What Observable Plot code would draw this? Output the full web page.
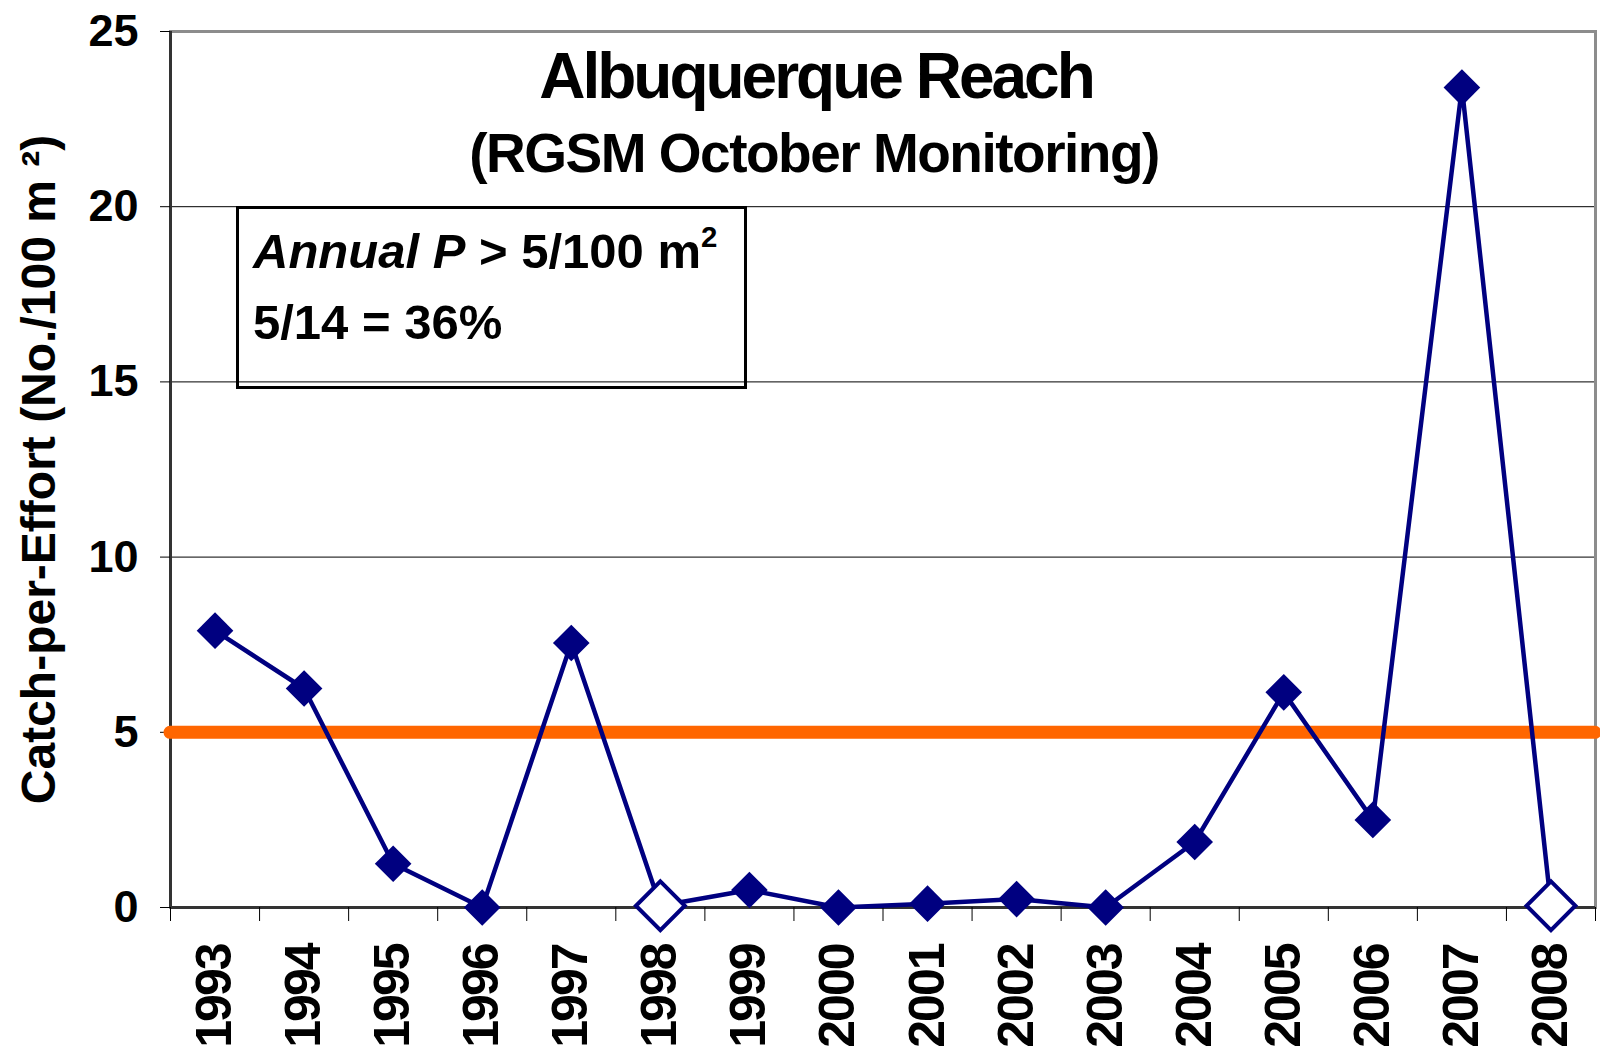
<!DOCTYPE html>
<html>
<head>
<meta charset="utf-8">
<script src="https://cdn.jsdelivr.net/npm/d3@7"></script>
<script src="https://cdn.jsdelivr.net/npm/@observablehq/plot@0.6"></script>
<style>
  html, body { margin: 0; padding: 0; background: #fff; overflow: hidden; }
  #wrap { position: relative; width: 1600px; height: 1053px; font-family: "Liberation Sans", Arial, sans-serif; }
  #wrap svg { position: absolute; left: 0; top: 0; }
  #note {
    position: absolute; left: 236px; top: 206px; width: 511px; height: 183px;
    box-sizing: border-box; border: 3px solid #000;
  }
  #noteText {
    position: absolute; left: 253px; top: 215.5px;
    font-family: "Liberation Sans", Arial, sans-serif; font-weight: bold;
    font-size: 49px; line-height: 71px; color: #000; white-space: nowrap;
  }
  #noteText sup { font-size: 0.6em; line-height: 0; vertical-align: 0.7em; }
</style>
</head>
<body>
<div id="wrap"></div>
<script>
// ---- data ----
const years = [1993, 1994, 1995, 1996, 1997, 1998, 1999, 2000, 2001, 2002, 2003, 2004, 2005, 2006, 2007, 2008];
const cpue  = [7.9, 6.25, 1.25, 0.0, 7.55, 0.05, 0.5, 0.0, 0.11, 0.24, 0.0, 1.87, 6.14, 2.5, 23.4, 0.05];
const openMarker = [false, false, false, false, false, true, false, false, false, false, false, false, false, false, false, true];
const threshold = 5;
const yTicks = [0, 5, 10, 15, 20, 25];
const titleText = "Albuquerque Reach";
const subtitleText = "(RGSM October Monitoring)";
const yLabel = "Catch-per-Effort (No./100 m \u00B2)";
const noteLine1 = "<i>Annual P</i> &gt; 5/100 m<sup>2</sup>";
const noteLine2 = "5/14 = 36%";

const data = years.map((year, i) => ({year, cpue: cpue[i], open: openMarker[i]}));
const xDomain = [years[0] - 0.5, years[years.length - 1] + 0.5];
const boundaries = d3.range(xDomain[0], xDomain[1] + 0.001, 1);
const yDomain = [yTicks[0], yTicks[yTicks.length - 1]];

const navy = "#000080";

const chart = Plot.plot({
  width: 1600,
  height: 1053,
  marginLeft: 170,
  marginRight: 5,
  marginTop: 31,
  marginBottom: 146,
  style: {fontFamily: "'Liberation Sans', Arial, sans-serif", background: "transparent", color: "#000", overflow: "visible"},
  x: {domain: xDomain, axis: null},
  y: {domain: yDomain, axis: null},
  marks: [
    Plot.gridY(yTicks.filter(v => v > yDomain[0] && v < yDomain[1]), {stroke: "#000", strokeOpacity: 1, strokeWidth: 1}),
    Plot.frame({stroke: "#8c8c8c", strokeWidth: 3}),
    Plot.ruleX([xDomain[0]], {stroke: "#333", strokeWidth: 3}),
    Plot.ruleY([yDomain[0]], {stroke: "#333", strokeWidth: 3}),
    Plot.axisY({ticks: yTicks, tickSize: 10, tickPadding: 22, fontSize: 45, fontWeight: "bold", label: null, stroke: "#000"}),
    Plot.axisX({ticks: boundaries, tickSize: 14, tickFormat: () => "", label: null, stroke: "#000"}),
    Plot.axisX({ticks: years, tickSize: 0, tickPadding: 37, tickRotate: -90, tickFormat: d => String(d), fontSize: 50, fontWeight: "bold", label: null}),
    Plot.ruleY([threshold], {stroke: "#FF6600", strokeWidth: 13, strokeLinecap: "round"}),
    Plot.line(data, {x: "year", y: "cpue", stroke: navy, strokeWidth: 4.5}),
    Plot.dot(data.filter(d => !d.open), {x: "year", y: "cpue", symbol: "diamond2", r: 16.5, fill: navy, stroke: "none"}),
    Plot.dot(data.filter(d => d.open), {x: "year", y: "cpue", symbol: "diamond2", r: 22, fill: "#fff", stroke: navy, strokeWidth: 4}),
    Plot.text([titleText], {frameAnchor: "top", dx: -67, dy: 66, lineAnchor: "bottom", textAnchor: "middle", fontSize: 64, fontWeight: "bold", fill: "#000"}),
    Plot.text([subtitleText], {frameAnchor: "top", dx: -69, dy: 140, lineAnchor: "bottom", textAnchor: "middle", fontSize: 55, fontWeight: "bold", fill: "#000"}),
    Plot.text([yLabel], {frameAnchor: "left", dx: -131, rotate: -90, textAnchor: "middle", lineAnchor: "middle", fontSize: 48, fontWeight: "bold", fill: "#000"})
  ]
});

// tighten the condensed-looking lettering of the original
const yearStrings = new Set(years.map(String));
chart.querySelectorAll("text").forEach(t => {
  const s = t.textContent;
  if (s === titleText) t.style.letterSpacing = "-3px";
  else if (s === subtitleText) t.style.letterSpacing = "-1.5px";
  else if (yearStrings.has(s)) t.style.letterSpacing = "-2px";
});

const wrap = document.getElementById("wrap");
wrap.appendChild(chart);

const note = document.createElement("div");
note.id = "note";
wrap.appendChild(note);
const noteText = document.createElement("div");
noteText.id = "noteText";
noteText.innerHTML = noteLine1 + "<br>" + noteLine2;
wrap.appendChild(noteText);
</script>
</body>
</html>
